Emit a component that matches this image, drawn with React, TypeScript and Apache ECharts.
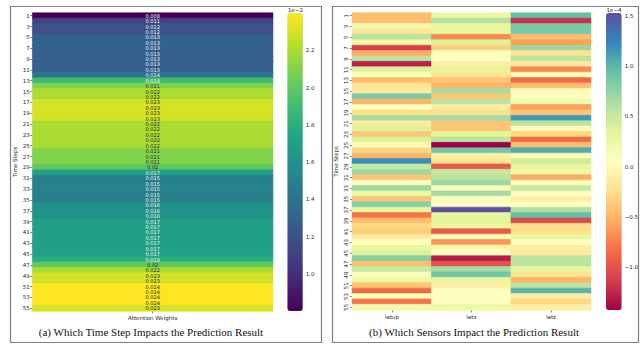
import React, { useEffect, useRef } from "react";
import * as echarts from "echarts";

// ---- data ----
const timeSteps = Array.from({ length: 55 }, (_, i) => String(i + 1));
const attentionCategory = ["Attention Weights"];
const attentionWeights = [
  0.008, 0.011, 0.012, 0.012, 0.013, 0.013, 0.013, 0.013, 0.013, 0.013,
  0.013, 0.014, 0.019, 0.021, 0.022, 0.022, 0.023, 0.023, 0.023, 0.023,
  0.022, 0.022, 0.022, 0.022, 0.022, 0.021, 0.021, 0.021, 0.02, 0.017,
  0.015, 0.015, 0.015, 0.015, 0.015, 0.016, 0.016, 0.016, 0.017, 0.017,
  0.017, 0.017, 0.017, 0.017, 0.017, 0.018, 0.02, 0.022, 0.023, 0.023,
  0.024, 0.024, 0.024, 0.024, 0.023,
];
const sensors = ["latup", "latx", "latz"];
// sensor importance, in units of 1e-4
const latup = [
  -0.45, -0.45, 0.2, -0.2, 0.57, 0.2, -1.13, -0.54, 0.55, -1.28,
  0.4, 0.1, -0.45, -0.2, -0.15, 0.85, -0.5, 0.05, -0.25, 0.65,
  -0.15, 0.4, -0.4, 0.4, 0.0, -0.3, -0.5, 1.2, 0.5, 0.7,
  -0.4, 0.05, 0.7, 0.25, -0.4, 0.8, 0.3, -0.8, -0.45, -0.3,
  -0.35, -0.15, 0.05, 0.3, 0.4, 0.8, -0.45, 0.5, 0.1, 0.25,
  -0.4, -0.85, 0.05, -0.8, 0.2,
];
const latx = [
  0.3, 0.6, 0.3, 0.3, -0.7, 0.4, -0.35, 0.05, 0.05, -0.1,
  0.35, -0.2, -0.4, -0.5, 0.65, -0.4, 0.55, -0.1, -0.25, 0.65,
  -0.4, -0.4, 0.35, 0.55, -1.43, 0.9, -0.1, -0.2, -0.95, 0.5,
  0.55, 0.7, 0.1, 0.65, 0.05, 0.05, 1.53, 0.35, 0.35, 0.3,
  -0.95, 0.1, -0.65, -0.05, 0.05, -1.3, -1.0, 0.65, 0.9, 0.3,
  -0.1, 0.05, 0.05, 0.05, 0.25,
];
const latz = [
  0.95, -1.2, 0.85, 0.85, -0.45, -0.6, 0.7, -0.2, 0.55, -0.15,
  -0.7, 0.05, -0.85, -0.45, 0.0, 0.05, 0.2, -0.6, -0.4, 1.15,
  0.55, 0.0, -0.3, -0.85, -0.45, 1.05, 0.0, 0.45, 0.3, 0.25,
  -0.55, 0.05, 0.5, 0.05, -0.1, 0.05, 0.6, 0.95, -1.05, -0.25,
  -0.25, 0.3, 0.05, -0.1, -0.15, 0.55, 0.55, 0.3, -0.2, -0.5,
  0.55, 1.0, -0.1, -0.3, -0.1,
];
const leftBarTicks = [0.01, 0.012, 0.014, 0.016, 0.018, 0.02, 0.022];
const rightBarTicks = [-1.0, -0.5, 0.0, 0.5, 1.0, 1.5];
const titleA = "(a) Which Time Step Impacts the Prediction Result";
const titleB = "(b) Which Sensors Impact the Prediction Result";

const viridis = [
  "#440154", "#482475", "#414487", "#355f8d", "#2a788e", "#21918c",
  "#22a884", "#44bf70", "#7ad151", "#bddf26", "#fde725",
];
const spectral = [
  "#9e0142", "#d53e4f", "#f46d43", "#fdae61", "#fee08b", "#ffffbf",
  "#e6f598", "#abdda4", "#66c2a5", "#3288bd", "#5e4fa2",
];

const fmt2g = (v: number) => String(parseFloat(v.toPrecision(2)));
const minus = (s: string) => s.replace("-", "\u2212");

export default function App() {
  const ref = useRef<HTMLDivElement>(null);
  useEffect(() => {
    document.body.style.margin = "0";
    if (!ref.current) return;
    const chart = echarts.init(ref.current, undefined, { renderer: "svg" });
    const font = "DejaVu Sans";
    const tickColor = "#333";
    const labelColor = "#262626";

    const lMin = Math.min(...attentionWeights);
    const lMax = Math.max(...attentionWeights);
    const sensorArrays = [latup, latx, latz];
    const all = sensorArrays.flat();
    const rMin = Math.min(...all);
    const rMax = Math.max(...all);
    const seam = (v: number, mn: number, mx: number, pal: string[]) => ({
      borderWidth: 0.6,
      borderColor: echarts.color.lerp((v - mn) / (mx - mn), pal) as string,
    });

    const leftData = attentionWeights.map((v, i) => ({
      value: [0, i, v],
      label: { color: v < 0.0195 ? "#f4f4f4" : "#262626" },
      itemStyle: seam(v, lMin, lMax, viridis),
    }));
    const rightData: any[] = [];
    sensorArrays.forEach((arr, k) =>
      arr.forEach((v, i) => rightData.push({ value: [k, i, v], itemStyle: seam(v, rMin, rMax, spectral) }))
    );

    const catY = (grid: number, rotate: number) => ({
      gridIndex: grid,
      type: "category",
      data: timeSteps,
      inverse: true,
      axisLine: { show: false },
      axisTick: { show: true, interval: 1, alignWithLabel: true, length: 2.5, lineStyle: { color: tickColor, width: 0.6 } },
      axisLabel: { interval: 1, fontSize: 5.5, color: labelColor, margin: 3, rotate, fontFamily: font },
      splitLine: { show: false },
      name: "Time Steps",
      nameLocation: "middle",
      nameRotate: 90,
      nameGap: grid === 0 ? 15 : 13,
      nameTextStyle: { fontSize: 5.5, color: labelColor, fontFamily: font },
    });
    const catX = (grid: number, data: string[]) => ({
      gridIndex: grid,
      type: "category",
      data,
      axisLine: { show: false },
      axisTick: { show: true, alignWithLabel: true, length: 2.5, lineStyle: { color: tickColor, width: 0.6 } },
      axisLabel: { fontSize: 5.5, color: labelColor, margin: 4, fontFamily: font },
      splitLine: { show: false },
    });
    const barAxis = (grid: number, min: number, max: number, ticks: number[], f: (v: number) => string) => ({
      gridIndex: grid,
      type: "value",
      position: "right",
      min,
      max,
      axisLine: { show: false },
      splitLine: { show: false },
      axisTick: { show: true, length: 2.5, customValues: ticks, lineStyle: { color: tickColor, width: 0.6 } },
      axisLabel: { fontSize: 5.5, color: labelColor, margin: 3, customValues: ticks, formatter: f, fontFamily: font },
    });

    const option: any = {
      animation: false,
      textStyle: { fontFamily: font },
      grid: [
        { left: 32.7, top: 13, width: 240, height: 298 },
        { left: 287.3, top: 13, width: 15.5, height: 298 },
        { left: 352.3, top: 13, width: 238.4, height: 297 },
        { left: 606, top: 13, width: 15.7, height: 297 },
      ],
      xAxis: [
        catX(0, attentionCategory),
        { gridIndex: 1, type: "value", show: false },
        catX(2, sensors),
        { gridIndex: 3, type: "value", show: false },
      ],
      yAxis: [
        catY(0, 0),
        barAxis(1, lMin, lMax, leftBarTicks, (v) => (v * 100).toFixed(1)),
        catY(2, 90),
        barAxis(3, rMin, rMax, rightBarTicks, (v) => minus(v.toFixed(1))),
      ],
      visualMap: [
        {
          type: "continuous", seriesIndex: 0, dimension: 2, min: lMin, max: lMax,
          inRange: { color: viridis }, calculable: false, hoverLink: false,
          left: 287.3, top: 13, itemWidth: 15.5, itemHeight: 298, padding: 0,
        },
        {
          type: "continuous", seriesIndex: 1, dimension: 2, min: rMin, max: rMax,
          inRange: { color: spectral }, calculable: false, hoverLink: false,
          left: 606, top: 13, itemWidth: 15.7, itemHeight: 297, padding: 0,
        },
      ],
      series: [
        {
          type: "heatmap", xAxisIndex: 0, yAxisIndex: 0, data: leftData,
          label: { show: true, fontSize: 5, fontFamily: font, formatter: (p: any) => fmt2g(p.value[2]) },
          emphasis: { disabled: true },
        },
        {
          type: "heatmap", xAxisIndex: 2, yAxisIndex: 2, data: rightData,
          emphasis: { disabled: true },
        },
      ],
      graphic: [
        { type: "rect", shape: { x: 10.5, y: 6.5, width: 311, height: 336 }, style: { fill: "none", stroke: "#808080", lineWidth: 1.2 } },
        { type: "rect", shape: { x: 332.5, y: 6.5, width: 306, height: 336 }, style: { fill: "none", stroke: "#808080", lineWidth: 1.2 } },
        { type: "text", x: 295.5, y: 10, style: { text: "1e\u22122", fontSize: 5.5, fill: labelColor, fontFamily: font, textAlign: "center", textVerticalAlign: "middle" } },
        { type: "text", x: 614, y: 10, style: { text: "1e\u22124", fontSize: 5.5, fill: labelColor, fontFamily: font, textAlign: "center", textVerticalAlign: "middle" } },
        { type: "text", x: 151, y: 332, style: { text: titleA, fontSize: 11, fill: "#111", fontFamily: "Liberation Serif", textAlign: "center", textVerticalAlign: "middle" } },
        { type: "text", x: 474, y: 332, style: { text: titleB, fontSize: 11, fill: "#111", fontFamily: "Liberation Serif", textAlign: "center", textVerticalAlign: "middle" } },
      ],
    };
    chart.setOption(option);
    return () => chart.dispose();
  }, []);
  return <div ref={ref} style={{ position: "absolute", left: 0, top: 0, width: 642, height: 344 }} />;
}
